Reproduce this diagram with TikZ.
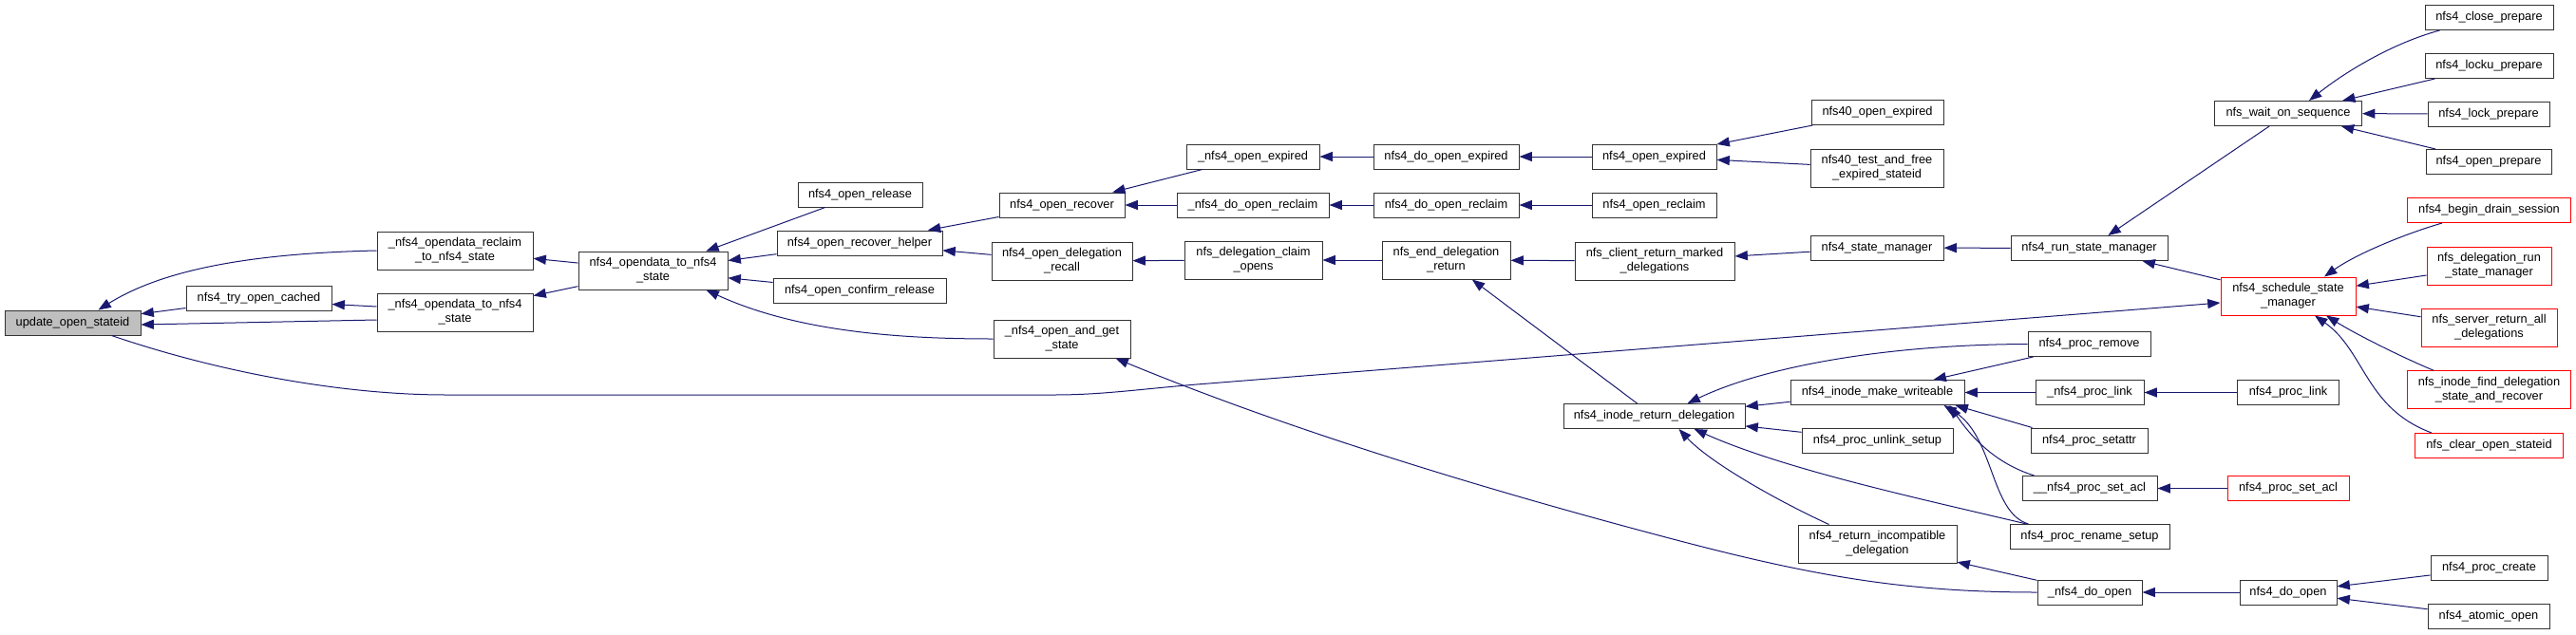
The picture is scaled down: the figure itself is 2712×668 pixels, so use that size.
\documentclass[tikz,border=0pt]{standalone}
\usepackage{fontspec}
\setmainfont{Liberation Sans}
\usepackage{tikz}
\usetikzlibrary{arrows.meta,calc}
\definecolor{edgeblue}{HTML}{191970}
\definecolor{rootgray}{HTML}{BFBFBF}
\tikzset{
  fn/.style={draw=black!80, fill=white, line width=0.75pt, inner sep=0pt, align=center,
             font=\fontsize{9.6pt}{11.25pt}\selectfont},
  fnred/.style={fn, draw=red},
  call/.style={edgeblue, line width=0.75pt, -{Triangle[length=10pt,width=7.5pt]}}
}

\begin{document}
\begin{tikzpicture}[x=0.75pt, y=-0.75pt]
  \useasboundingbox (0,0) rectangle (2712,668);
  % Root
  \node[fn, fill=rootgray, minimum width=143*0.75pt, minimum height=26*0.75pt] (upd) at (76.5,340) {update\_open\_stateid};
  % Callers (black boxes)
  \foreach \nm/\x/\y/\w/\h/\lab in {
      try/272.5/314.5/153/26/nfs4\_try\_open\_cached,
      reclaim/479/264/164/40/{\_nfs4\_opendata\_reclaim\\\_to\_nfs4\_state},
      odto/479/329/164/40/{\_nfs4\_opendata\_to\_nfs4\\\_state},
      opendata/687.5/285/157/40/{nfs4\_opendata\_to\_nfs4\\\_state},
      release/905.5/205/131/26/nfs4\_open\_release,
      helper/905/256/174/26/nfs4\_open\_recover\_helper,
      confirm/905/306.5/182/26/nfs4\_open\_confirm\_release,
      recover/1118/216/132/26/nfs4\_open\_recover,
      delegrecall/1118/275/148/40/{nfs4\_open\_delegation\\\_recall},
      andget/1118/357/144/40/{\_nfs4\_open\_and\_get\\\_state},
      openexpired/1319/165/140/26/\_nfs4\_open\_expired,
      doopenreclaim/1319/216/160/26/\_nfs4\_do\_open\_reclaim,
      claimopens/1319.5/274/145/40/{nfs\_delegation\_claim\\\_opens},
      doexpired/1522.5/165/153/26/nfs4\_do\_open\_expired,
      doreclaim/1522.5/216/153/26/nfs4\_do\_open\_reclaim,
      enddeleg/1522.5/274/135/40/{nfs\_end\_delegation\\\_return},
      nfs4openexpired/1741.5/165/131/26/nfs4\_open\_expired,
      nfs4openreclaim/1741.5/216/131/26/nfs4\_open\_reclaim,
      clientreturn/1742/275/168/40/{nfs\_client\_return\_marked\\\_delegations},
      inoderet/1741.5/438.5/191/26/nfs4\_inode\_return\_delegation,
      nfs40expired/1976.5/118.5/139/26/nfs40\_open\_expired,
      nfs40test/1976/177/140/40/{nfs40\_test\_and\_free\\\_expired\_stateid},
      statemgr/1976/261/140/26/nfs4\_state\_manager,
      makewr/1976.5/413.5/183/26/nfs4\_inode\_make\_writeable,
      unlink/1976.5/464/159/26/nfs4\_proc\_unlink\_setup,
      incompat/1976.5/573/167/40/{nfs4\_return\_incompatible\\\_delegation},
      runmgr/2199.5/261.5/165/26/nfs4\_run\_state\_manager,
      remove/2199.5/362.5/129/26/nfs4\_proc\_remove,
      prlink/2200/413.5/114/26/\_nfs4\_proc\_link,
      setattr/2199.5/464/123/26/nfs4\_proc\_setattr,
      setacl/2200/514.5/142/26/\_\_nfs4\_proc\_set\_acl,
      rename/2200/565.5/168/26/nfs4\_proc\_rename\_setup,
      dopen/2200/624/110/26/\_nfs4\_do\_open,
      waitseq/2409/119.5/155/26/nfs\_wait\_on\_sequence,
      proclink/2409/413.5/107/26/nfs4\_proc\_link,
      nfs4doopen/2409/624/102/26/nfs4\_do\_open,
      close/2620.5/18.5/135/26/nfs4\_close\_prepare,
      locku/2620.5/69.5/135/26/nfs4\_locku\_prepare,
      lock/2620/120/128/26/nfs4\_lock\_prepare,
      openprep/2620/170.5/132/26/nfs4\_open\_prepare,
      create/2620.5/598.5/123/26/nfs4\_proc\_create,
      atomic/2620/649.5/128/26/nfs4\_atomic\_open}
    \node[fn, minimum width=\w*0.75pt, minimum height=\h*0.75pt] (\nm) at (\x,\y) {\lab};
  % Truncated callers (red boxes)
  \foreach \nm/\x/\y/\w/\h/\lab in {
      schedmgr/2409/312/142/40/{nfs4\_schedule\_state\\\_manager},
      procsetacl/2409/514.5/128/26/nfs4\_proc\_set\_acl,
      drain/2620.5/221.5/172/26/nfs4\_begin\_drain\_session,
      delegrun/2620.5/280/131/40/{nfs\_delegation\_run\\\_state\_manager},
      serverret/2620.5/345/143/40/{nfs\_server\_return\_all\\\_delegations},
      findrec/2620.5/410.7/172/40/{nfs\_inode\_find\_delegation\\\_state\_and\_recover},
      clearopen/2620.5/469.5/156/26/nfs\_clear\_open\_stateid}
    \node[fnred, minimum width=\w*0.75pt, minimum height=\h*0.75pt] (\nm) at (\x,\y) {\lab};
  % Straight calls
  \foreach \a/\b in {try/upd, opendata/reclaim, opendata/odto, release/opendata,
      helper/opendata, confirm/opendata, recover/helper, delegrecall/helper,
      openexpired/recover, doopenreclaim/recover, claimopens/delegrecall,
      doexpired/openexpired, doreclaim/doopenreclaim, enddeleg/claimopens,
      nfs4openexpired/doexpired, nfs4openreclaim/doreclaim, clientreturn/enddeleg,
      inoderet/enddeleg, nfs40expired/nfs4openexpired, nfs40test/nfs4openexpired,
      statemgr/clientreturn, runmgr/statemgr, waitseq/runmgr, schedmgr/runmgr,
      locku/waitseq, lock/waitseq, openprep/waitseq, delegrun/schedmgr,
      serverret/schedmgr, makewr/inoderet, unlink/inoderet, remove/makewr,
      prlink/makewr, proclink/prlink, procsetacl/setacl, dopen/incompat,
      nfs4doopen/dopen, create/nfs4doopen, atomic/nfs4doopen}
    \draw[call] (\a) -- (\b);
  % Bent calls
  \draw[call] (reclaim.west) .. controls (260,267) and (170,285) .. ($(upd.north)+(27,0)$);
  \draw[call] ($(odto.west)+(0,8)$) -- ($(upd.east)+(0,2)$);
  \draw[call] ($(odto.west)+(0,-6)$) -- ($(try.east)+(0,6)$);
  \draw[call] ($(upd.south)+(41,0)$) .. controls (230,392) and (360,416) .. (470,416) -- (1110,416)
    .. controls (1160,416) and (1200,410) .. (1260,405) -- ($(schedmgr.west)+(0,7)$);
  \draw[call] (andget.west) .. controls (950,357) and (840,350) .. ($(opendata.south)+(56,0)$);
  \draw[call] ($(close.south west)+(16,0)$) .. controls (2520,45) and (2470,75) .. ($(waitseq.north)+(22,0)$);
  \draw[call] ($(drain.south west)+(37,0)$) .. controls (2530,247) and (2480,268) .. ($(schedmgr.north)+(38,0)$);
  \draw[call] ($(findrec.north west)+(28,0)$) .. controls (2530,377) and (2480,352) .. ($(schedmgr.south)+(40,0)$);
  \draw[call] ($(clearopen.north west)+(18,0)$) .. controls (2490,430) and (2490,370) .. ($(schedmgr.south)+(28,0)$);
  \draw[call] (remove.west) .. controls (1990,363) and (1860,385) .. ($(inoderet.north)+(35,0)$);
  \draw[call] ($(rename.north west)+(18,0)$) .. controls (2020,525) and (1880,495) .. ($(inoderet.south)+(42,0)$);
  \draw[call] ($(incompat.north west)+(33,0)$) .. controls (1870,527) and (1800,487) .. ($(inoderet.south)+(26,0)$);
  \draw[call] ($(setattr.north west)+(2,0)$) -- ($(makewr.south east)+(-10,0)$);
  \draw[call] ($(setacl.north west)+(13,0)$) .. controls (2100,488) and (2075,460) .. ($(makewr.south east)+(-16,0)$);
  \draw[call] ($(rename.north west)+(20,0)$) .. controls (2095,540) and (2100,460) .. ($(makewr.south east)+(-22,0)$);
  \draw[call] (dopen.west) .. controls (2000,624) and (1900,605) .. (1750,565)
    .. controls (1550,512) and (1350,450) .. ($(andget.south east)+(-16,0)$);
\end{tikzpicture}
\end{document}
